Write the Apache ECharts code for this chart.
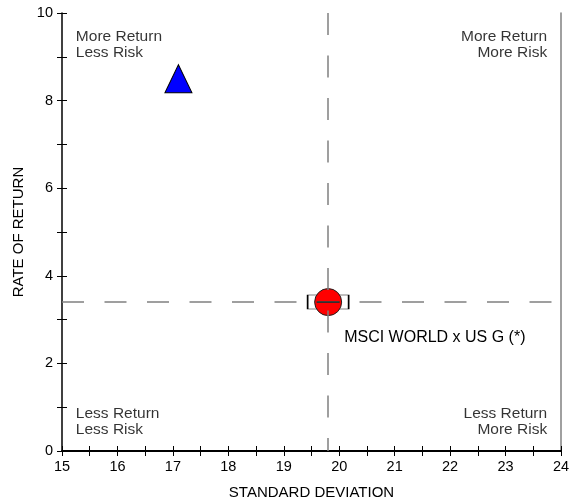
<!DOCTYPE html>
<html><head><meta charset="utf-8">
<script src="https://cdn.jsdelivr.net/npm/echarts@6/dist/echarts.min.js"></script>
<style>html,body{margin:0;padding:0;background:#fff}#c{width:569px;height:502px}</style>
</head><body><div id="c"></div>
<script>
// ---- data ----
const xAxisName = 'STANDARD DEVIATION';
const yAxisName = 'RATE OF RETURN';
const xRange = [15, 24];
const yRange = [0, 10];
const benchmarkName = 'MSCI WORLD x US G (*)';
const benchmarkPoint = [19.8, 3.4];   // red circle
const fundPoint = [17.1, 8.5];        // blue triangle
const meanRisk = 19.8;                // vertical dashed line
const meanReturn = 3.4;               // horizontal dashed line
const quadrantTexts = ['More Return\nLess Risk', 'More Return\nMore Risk', 'Less Return\nLess Risk', 'Less Return\nMore Risk'];

const FONT = "'Liberation Sans', Arial, sans-serif";
const chart = echarts.init(document.getElementById('c'), null, {renderer: 'canvas'});

const quadPos = [[15.25, 9.28, 'left'], [23.75, 9.28, 'right'], [15.25, 0.66, 'left'], [23.75, 0.66, 'right']];
const quadData = quadrantTexts.map((t, i) => ({
  value: [quadPos[i][0], quadPos[i][1]],
  name: t,
  label: {align: quadPos[i][2]}
}));

const dash = {type: [22, 20.5], color: '#808080', width: 1.5};

const baseX = {
  type: 'value', min: xRange[0], max: xRange[1], interval: 0.5,
  splitLine: {show: false}
};
const baseY = {
  type: 'value', min: yRange[0], max: yRange[1], interval: 1,
  splitLine: {show: false}
};
const gridBox = {left: 62, right: 8, top: 13, bottom: 51, containLabel: false, outerBoundsMode: 'none'};

const option = {
  animation: false,
  backgroundColor: '#fff',
  textStyle: {fontFamily: FONT},
  grid: [Object.assign({}, gridBox), Object.assign({}, gridBox), Object.assign({}, gridBox)],
  xAxis: [
    Object.assign({}, baseX, {
      gridIndex: 0, position: 'bottom',
      name: xAxisName, nameLocation: 'middle', nameGap: 34,
      nameTextStyle: {fontSize: 15, color: '#000', fontFamily: FONT},
      axisLine: {show: true, lineStyle: {color: '#000', width: 2}},
      axisTick: {show: true, inside: false, length: 5, lineStyle: {color: '#000', width: 1}},
      axisLabel: {show: true, margin: 8, fontSize: 14.5, color: '#000', fontFamily: FONT,
        formatter: v => (Math.abs(v - Math.round(v)) < 1e-6 ? String(Math.round(v)) : '')}
    }),
    Object.assign({}, baseX, {
      gridIndex: 1, position: 'bottom',
      axisLine: {show: false},
      axisTick: {show: true, inside: true, length: 5, lineStyle: {color: '#000', width: 1}},
      axisLabel: {show: false}
    }),
    Object.assign({}, baseX, {
      gridIndex: 2, position: 'top',
      axisLine: {show: true, lineStyle: {color: '#000', width: 1}},
      axisTick: {show: false},
      axisLabel: {show: false}
    })
  ],
  yAxis: [
    Object.assign({}, baseY, {
      gridIndex: 0, position: 'left',
      name: yAxisName, nameLocation: 'middle', nameGap: 35, nameRotate: 90,
      nameTextStyle: {fontSize: 15, color: '#000', fontFamily: FONT},
      axisLine: {show: true, lineStyle: {color: '#000', width: 1.5}},
      axisTick: {show: true, inside: false, length: 5, lineStyle: {color: '#000', width: 1}},
      axisLabel: {show: true, margin: 9, fontSize: 14.5, color: '#000', fontFamily: FONT,
        formatter: v => (Math.round(v) % 2 === 0 ? String(Math.round(v)) : '')}
    }),
    Object.assign({}, baseY, {
      gridIndex: 1, position: 'left',
      axisLine: {show: false},
      axisTick: {show: true, inside: true, length: 5, lineStyle: {color: '#000', width: 1}},
      axisLabel: {show: false}
    }),
    Object.assign({}, baseY, {
      gridIndex: 2, position: 'right',
      axisLine: {show: true, lineStyle: {color: '#808080', width: 1.5}},
      axisTick: {show: false},
      axisLabel: {show: false}
    })
  ],
  series: [
    {
      type: 'line', data: [], z: 1, silent: true,
      markLine: {
        silent: true, symbol: 'none', animation: false,
        label: {show: false},
        lineStyle: dash,
        data: [
          [{coord: [meanRisk, yRange[1]]}, {coord: [meanRisk, yRange[0]]}],
          [{coord: [xRange[0], meanReturn]}, {coord: [xRange[1], meanReturn]}]
        ]
      }
    },
    {
      type: 'scatter', z: 3, silent: true,
      symbol: 'rect', symbolSize: [41, 14],
      itemStyle: {color: '#fff', borderColor: '#000', borderWidth: 1, opacity: 1},
      data: [benchmarkPoint]
    },
    {
      type: 'scatter', z: 4, silent: true,
      symbol: 'circle', symbolSize: 27,
      itemStyle: {color: '#ff0000', borderColor: '#222', borderWidth: 1, opacity: 1},
      label: {show: true, position: 'right', distance: 2, offset: [0, 36],
        formatter: () => benchmarkName, fontSize: 16, color: '#000', fontFamily: FONT},
      data: [benchmarkPoint]
    },
    {
      type: 'scatter', z: 5, silent: true,
      symbol: 'rect', symbolSize: [23, 1.5],
      itemStyle: {color: '#222', opacity: 1},
      data: [benchmarkPoint]
    },
    {
      type: 'scatter', z: 4, silent: true,
      symbol: 'triangle', symbolSize: [27, 28],
      itemStyle: {color: '#0000ff', borderColor: '#000', borderWidth: 1, opacity: 1},
      data: [fundPoint]
    },
    {
      type: 'scatter', z: 2, silent: true,
      symbolSize: 1,
      itemStyle: {color: 'rgba(0,0,0,0)'},
      label: {show: true, position: 'inside', verticalAlign: 'middle',
        formatter: p => p.name, fontSize: 15.5, lineHeight: 16, color: '#000', fontFamily: FONT},
      data: quadData
    }
  ]
};
chart.setOption(option);
</script>
</body></html>
